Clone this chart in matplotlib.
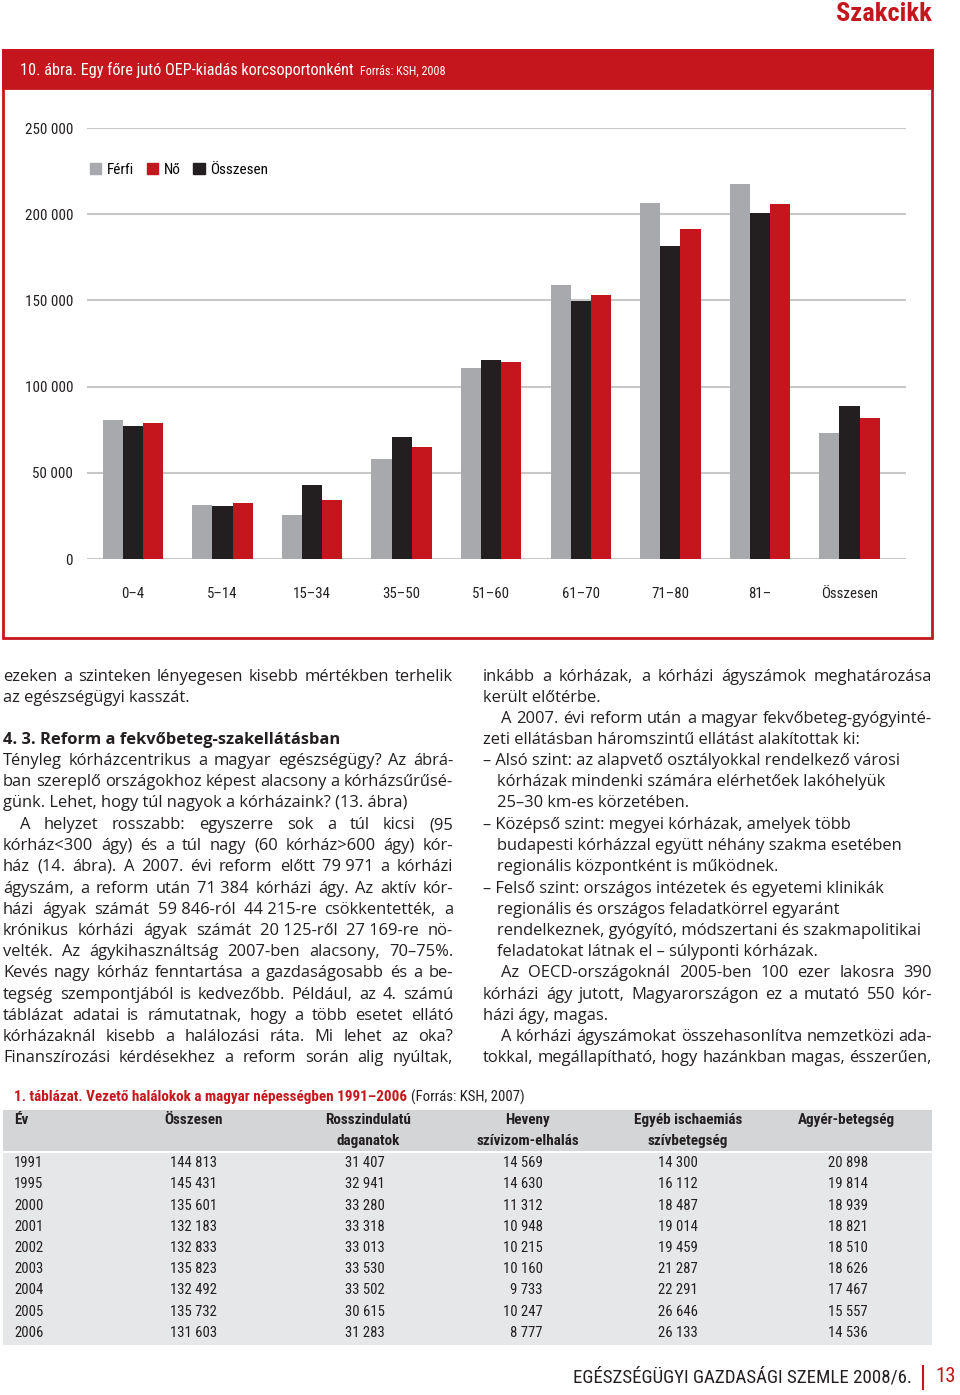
import matplotlib
matplotlib.use("Agg")
import matplotlib.pyplot as plt
from matplotlib import font_manager
from matplotlib.patches import Rectangle, Patch
import numpy as np

W, H = 960, 1395

# chart data
age_groups = ["0–4", "5–14", "15–34", "35–50", "51–60", "61–70", "71–80", "81–", "Összesen"]
ferfi = [80900, 31600, 25700, 58100, 111000, 158900, 206600, 217600, 73000]
osszesen = [77400, 30500, 42900, 71000, 115500, 149700, 181700, 200500, 88800]
no = [79100, 32600, 34200, 64700, 114500, 153300, 191200, 205800, 81700]
y_ticks = [0, 50000, 100000, 150000, 200000, 250000]
y_tick_labels = ["0", "50 000", "100 000", "150 000", "200 000", "250 000"]

# table data
tab_years = ["1991", "1995", "2000", "2001", "2002", "2003", "2004", "2005", "2006"]
tab_total = ["144 813", "145 431", "135 601", "132 183", "132 833", "135 823", "132 492", "135 732", "131 603"]
tab_malignant = ["31 407", "32 941", "33 280", "33 318", "33 013", "33 530", "33 502", "30 615", "31 283"]
tab_infarct = ["14 569", "14 630", "11 312", "10 948", "10 215", "10 160", "9 733", "10 247", "8 777"]
tab_ischaemic = ["14 300", "16 112", "18 487", "19 014", "19 459", "21 287", "22 291", "26 646", "26 133"]
tab_stroke = ["20 898", "19 814", "18 939", "18 821", "18 510", "18 626", "17 467", "15 557", "14 536"]
tab_headers = ["Év", "Összesen", "Rosszindulatú\ndaganatok", "Heveny\nszívizom-elhalás",
               "Egyéb ischaemiás\nszívbetegség", "Agyér-betegség"]

RED = "#c4161c"
GREY = "#a7a9ac"
BLACK = "#231f20"
BODY = ["Open Sans", "DejaVu Sans"]
BODY_SIZE = 11.85

# look for a condensed face, otherwise fall back to Roboto (narrowest of the installed ones)
NARROW = {"family": ["Roboto", "DejaVu Sans"]}
SC = 1.0
_names = {f.name for f in font_manager.fontManager.ttflist}
for cand in ["Liberation Sans Narrow", "Roboto Condensed", "Open Sans Condensed", "Noto Sans Condensed"]:
    if cand in _names:
        NARROW = {"family": [cand, "DejaVu Sans"]}
        SC = 1.15
        break

def nf(size, **kw):
    d = dict(NARROW)
    d["fontsize"] = size * SC
    d.update(kw)
    return d

def fx(x):
    return x / W

def fy(y):
    return 1 - y / H

fig = plt.figure(figsize=(W / 100, H / 100), dpi=100)
r = fig.canvas.get_renderer()

# top label
fig.text(fx(932), fy(14), "Szakcikk", color=RED, ha="right", va="center", **nf(16.5, fontweight="bold"))

# chart frame + header band
fig.patches.append(Rectangle((fx(3), fy(638)), fx(929), 588 / H, transform=fig.transFigure,
                             fill=False, edgecolor=RED, lw=2))
fig.patches.append(Rectangle((fx(3), fy(88)), fx(929), 38 / H, transform=fig.transFigure,
                             facecolor=RED, edgecolor=RED, lw=2))
t = fig.text(fx(20), fy(70), "10. ábra. Egy főre jutó OEP-kiadás korcsoportonként", color="white",
             ha="left", va="center", **nf(10.2))
bb = t.get_window_extent(r)
fig.text(fx(bb.x1 + 6), fy(71), "Forrás: KSH, 2008", color="white", ha="left", va="center", **nf(7.6))

# bar chart
ax = fig.add_axes([fx(87), fy(559), (906 - 87) / W, (559 - 128) / H])
x = np.arange(len(age_groups))
bw = 0.225
ax.bar(x - bw, ferfi, bw, color=GREY, label="Férfi")
ax.bar(x, osszesen, bw, color=BLACK, label="Összesen")
ax.bar(x + bw, no, bw, color=RED, label="Nő")
ax.set_xlim(-0.513, 8.63)
ax.set_ylim(0, 250000)
ax.set_yticks(y_ticks)
ax.set_yticklabels(y_tick_labels, color=BLACK, **nf(9.5))
ax.set_xticks(x)
ax.set_xticklabels(age_groups, color=BLACK, **nf(9.3))
ax.tick_params(axis="y", length=0, pad=10)
ax.tick_params(axis="x", length=0, pad=20)
ax.grid(axis="y", color="#c8c8c8", lw=1.5)
ax.set_axisbelow(True)
for s in ax.spines.values():
    s.set_visible(False)
handles = [Patch(color=GREY), Patch(color=RED), Patch(color=BLACK)]
ax.legend(handles, ["Férfi", "Nő", "Összesen"], ncol=3, loc="center left",
          bbox_to_anchor=(fx(90), fy(170)), bbox_transform=fig.transFigure,
          frameon=False, handlelength=0.75, handleheight=0.75, handletextpad=0.35,
          columnspacing=0.85, borderpad=0, borderaxespad=0,
          prop={"family": NARROW["family"], "size": 9.5 * SC})

# body text helper: justified lines
def put_line(x0, x1, y, text, justify=True, **kw):
    kw.setdefault("family", BODY)
    kw.setdefault("fontsize", BODY_SIZE)
    kw.setdefault("color", BLACK)
    if not justify:
        fig.text(fx(x0), fy(y), text, ha="left", va="center", **kw)
        return
    words = text.split(" ")
    objs = [fig.text(0, fy(y), w, ha="left", va="center", **kw) for w in words]
    widths = [o.get_window_extent(r).width for o in objs]
    gap = (x1 - x0 - sum(widths)) / max(len(words) - 1, 1)
    xx = x0
    for o, w in zip(objs, widths):
        o.set_x(fx(xx))
        xx += w + gap

NB = "\u00a0"
left_lines = [
    (677, 3, True, "ezeken a szinteken lényegesen kisebb mértékben terhelik"),
    (698, 3, False, "az egészségügyi kasszát."),
    (761, 3, True, "Tényleg kórházcentrikus a magyar egészségügy? Az ábrá-"),
    (782, 3, True, "ban szereplő országokhoz képest alacsony a kórházsűrűsé-"),
    (803, 3, False, "günk. Lehet, hogy túl nagyok a kórházaink? (13. ábra)"),
    (825, 20, True, "A helyzet rosszabb: egyszerre sok a túl kicsi (95"),
    (846, 3, True, "kórház<300 ágy) és a túl nagy (60 kórház>600 ágy) kór-"),
    (867, 3, True, "ház (14. ábra). A 2007. évi reform előtt 79" + NB + "971 a kórházi"),
    (889, 3, True, "ágyszám, a reform után 71" + NB + "384 kórházi ágy. Az aktív kór-"),
    (910, 3, True, "házi ágyak számát 59" + NB + "846-ról 44" + NB + "215-re csökkentették, a"),
    (931, 3, True, "krónikus kórházi ágyak számát 20" + NB + "125-ről 27" + NB + "169-re nö-"),
    (952, 3, True, "velték. Az ágykihasználtság 2007-ben alacsony, 70–75%."),
    (973, 3, True, "Kevés nagy kórház fenntartása a gazdaságosabb és a be-"),
    (995, 3, True, "tegség szempontjából is kedvezőbb. Például, az 4. számú"),
    (1016, 3, True, "táblázat adatai is rámutatnak, hogy a több esetet ellátó"),
    (1037, 3, True, "kórházaknál kisebb a halálozási ráta. Mi lehet az oka?"),
    (1058, 3, True, "Finanszírozási kérdésekhez a reform során alig nyúltak,"),
]
for y, x0, j, s in left_lines:
    put_line(x0, 453, y, s, j)
fig.text(fx(3), fy(740), "4. 3. Reform a fekvőbeteg-szakellátásban", family=BODY,
         fontsize=BODY_SIZE, fontweight="bold", color=BLACK, ha="left", va="center")

right_lines = [
    (677, 483, True, "inkább a kórházak, a kórházi ágyszámok meghatározása"),
    (698, 483, False, "került előtérbe."),
    (719, 501, True, "A 2007. évi reform után a magyar fekvőbeteg-gyógyinté-"),
    (740, 483, False, "zeti ellátásban háromszintű ellátást alakítottak ki:"),
    (761, 483, False, "– Alsó szint: az alapvető osztályokkal rendelkező városi"),
    (782, 497, False, "kórházak mindenki számára elérhetőek lakóhelyük"),
    (803, 497, False, "25–30 km-es körzetében."),
    (825, 483, False, "– Középső szint: megyei kórházak, amelyek több"),
    (846, 497, False, "budapesti kórházzal együtt néhány szakma esetében"),
    (867, 497, False, "regionális központként is működnek."),
    (889, 483, False, "– Felső szint: országos intézetek és egyetemi klinikák"),
    (910, 497, False, "regionális és országos feladatkörrel egyaránt"),
    (931, 497, False, "rendelkeznek, gyógyító, módszertani és szakmapolitikai"),
    (952, 497, False, "feladatokat látnak el – súlyponti kórházak."),
    (973, 501, True, "Az OECD-országoknál 2005-ben 100 ezer lakosra 390"),
    (995, 483, True, "kórházi ágy jutott, Magyarországon ez a mutató 550 kór-"),
    (1016, 483, False, "házi ágy, magas."),
    (1037, 501, True, "A kórházi ágyszámokat összehasonlítva nemzetközi ada-"),
    (1058, 483, True, "tokkal, megállapítható, hogy hazánkban magas, ésszerűen,"),
]
for y, x0, j, s in right_lines:
    put_line(x0, 932, y, s, j)

# table
t = fig.text(fx(14), fy(1097), "1. táblázat. Vezető halálokok a magyar népességben 1991–2006",
             color=RED, ha="left", va="center", **nf(9.5, fontweight="bold"))
bb = t.get_window_extent(r)
fig.text(fx(bb.x1 + 4), fy(1097), "(Forrás: KSH, 2007)", color=BLACK, ha="left", va="center", **nf(9.2))
fig.patches.append(Rectangle((fx(3), fy(1151)), fx(929), 41 / H, transform=fig.transFigure,
                             facecolor="#d4d5d7", edgecolor="none"))
fig.patches.append(Rectangle((fx(3), fy(1345)), fx(929), 192 / H, transform=fig.transFigure,
                             facecolor="#e6e7e8", edgecolor="none"))
head_x = [14, 194, 368, 528, 688, 846]
for i, (hx, h) in enumerate(zip(head_x, tab_headers)):
    fig.text(fx(hx), fy(1113), h, color=BLACK, ha="left" if i == 0 else "center", va="top",
             multialignment="center", linespacing=1.6, **nf(9.5, fontweight="bold"))
cols = [tab_total, tab_malignant, tab_infarct, tab_ischaemic, tab_stroke]
col_right = [217, 385, 543, 698, 868]
for k, yr in enumerate(tab_years):
    yy = 1163 + k * 21.25
    fig.text(fx(14), fy(yy), yr, color=BLACK, ha="left", va="center", **nf(9.2))
    for c, xr in zip(cols, col_right):
        fig.text(fx(xr), fy(yy), c[k], color=BLACK, ha="right", va="center", **nf(9.2))

# footer
fig.text(fx(912), fy(1377), "EGÉSZSÉGÜGYI GAZDASÁGI SZEMLE 2008/6.", color=BLACK,
         ha="right", va="center", **nf(11.8))
fig.lines.append(plt.Line2D([fx(923), fx(923)], [fy(1366), fy(1389)], color=RED, lw=1.5,
                            transform=fig.transFigure))
fig.text(fx(935), fy(1377), "13", color=RED, ha="left", va="center", **nf(13))

fig.savefig("out.png", dpi=100)
